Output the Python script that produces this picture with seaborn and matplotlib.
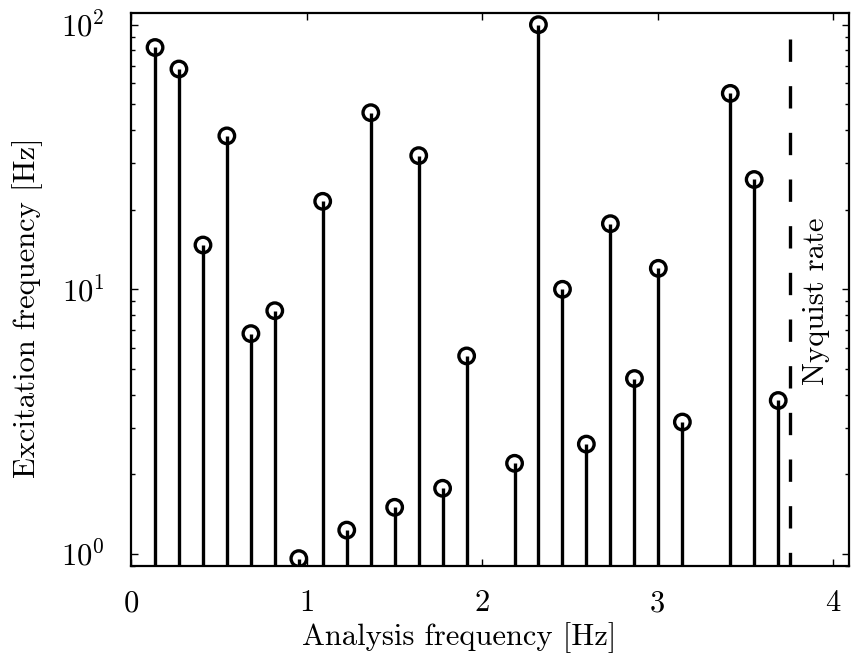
import matplotlib
matplotlib.use("Agg")
import matplotlib.pyplot as plt
import seaborn as sns
import pandas as pd
from matplotlib.ticker import LogLocator, FixedLocator

# Data
analysis_freq = [0.137, 0.273, 0.410, 0.546, 0.683, 0.819, 0.956, 1.092, 1.229,
                 1.366, 1.502, 1.639, 1.775, 1.912, 2.185, 2.321, 2.458, 2.594,
                 2.731, 2.868, 3.004, 3.141, 3.414, 3.550, 3.687]
excitation_freq = [82, 68, 14.7, 38, 6.8, 8.3, 0.96, 21.5, 1.23,
                   46.5, 1.5, 32, 1.77, 5.6, 2.2, 100, 10, 2.6,
                   17.7, 4.6, 12, 3.15, 55, 26, 3.8]
nyquist = 3.755
nyquist_top = 90
x_ticks = [0, 1, 2, 3, 4]
x_label = "Analysis frequency [Hz]"
y_label = "Excitation frequency [Hz]"
nyquist_label = "Nyquist rate"

df = pd.DataFrame({"x": analysis_freq, "y": excitation_freq})

sns.set_theme(style="ticks")
plt.rcParams.update({
    "font.family": ["cmr10", "DejaVu Serif"],
    "mathtext.fontset": "cm",
    "axes.formatter.use_mathtext": True,
    "axes.unicode_minus": False,
    "font.size": 22,
    "text.color": "black",
    "axes.labelcolor": "black",
    "axes.linewidth": 1.6,
    "xtick.direction": "in",
    "ytick.direction": "in",
    "xtick.top": True,
    "ytick.right": True,
    "xtick.major.size": 5,
    "ytick.major.size": 5,
    "ytick.minor.size": 3,
    "xtick.major.width": 1.0,
    "ytick.major.width": 1.0,
    "ytick.minor.width": 1.0,
    "xtick.color": "black",
    "ytick.color": "black",
    "axes.edgecolor": "black",
})

fig = plt.figure(figsize=(8.54, 6.67), dpi=100)
ax = fig.add_axes([0.1534, 0.1514, 0.8407, 0.8291])
ax.set_yscale("log")

ax.vlines(df["x"], 1e-3, df["y"], color="black", linewidth=2.4, zorder=2)
sns.scatterplot(data=df, x="x", y="y", ax=ax, marker="o", s=125,
                facecolors="none", edgecolor="black", linewidth=2.4, zorder=3,
                legend=False)

ax.vlines([nyquist], 1e-3, nyquist_top, color="black", linewidth=2.4,
          linestyles=(0, (6.7, 7.3)), zorder=2)
ax.text(3.905, 9.0, nyquist_label, rotation=90, ha="center", va="center",
        fontsize=22, color="black")

ax.set_xlim(0, 4.09)
ax.set_ylim(0.90, 110.7)
ax.xaxis.set_major_locator(FixedLocator(x_ticks))
ax.set_xticklabels([str(t) for t in x_ticks])
ax.yaxis.set_major_locator(LogLocator(base=10, numticks=10))
ax.yaxis.set_minor_locator(LogLocator(base=10, subs=range(2, 10), numticks=10))
ax.tick_params(axis="x", which="major", labelsize=22, pad=17)
ax.tick_params(axis="y", which="major", labelsize=22, pad=19)
ax.set_xlabel(x_label, fontsize=22)
ax.set_ylabel(y_label, fontsize=22)
ax.xaxis.set_label_coords(0.457, -0.101)
ax.yaxis.set_label_coords(-0.1226, 0.468)

fig.savefig("out.png", dpi=100)
